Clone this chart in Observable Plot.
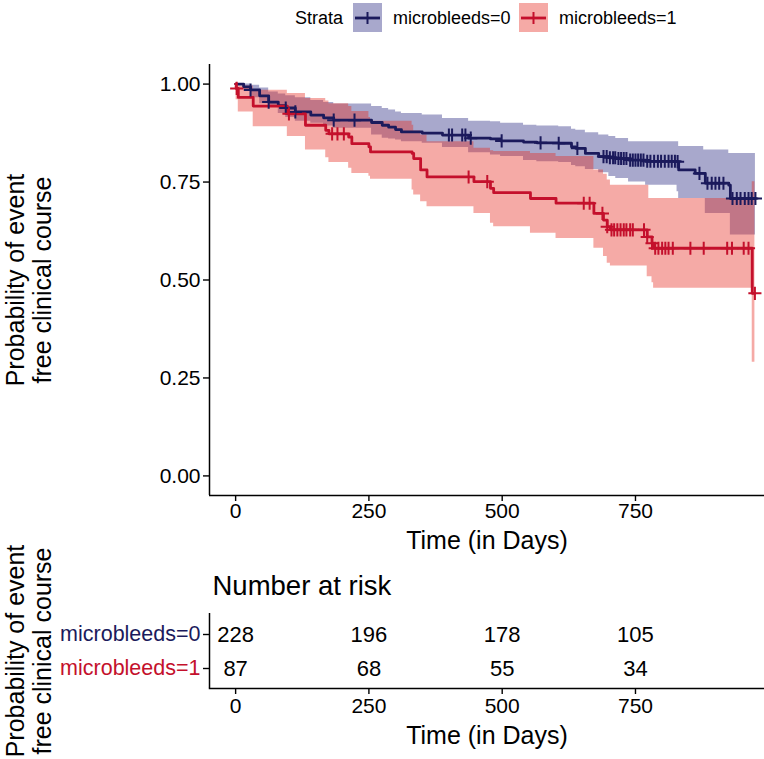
<!DOCTYPE html>
<html>
<head>
<meta charset="utf-8">
<script src="https://cdn.jsdelivr.net/npm/d3@7"></script>
<script src="https://cdn.jsdelivr.net/npm/@observablehq/plot@0.6"></script>
<style>
  body { margin: 0; background: #fff; }
  #root { position: relative; width: 764px; height: 759px; overflow: hidden; font-family: "Liberation Sans", Arial, sans-serif; background: #fff; }
  #root > * { position: absolute; left: 0; }
</style>
</head>
<body>
<div id="root"></div>
<script>
// ---------- data ----------
const strata = ["microbleeds=0", "microbleeds=1"];
const lineColors = ["#1b1a5c", "#c4102c"];
const ribbonColors = ["#26267f", "#e62a20"];

// microbleeds=0 : step times, survival, upper and lower CI
const time0  = [0, 15, 28, 45, 62, 80, 94, 112, 141, 165, 184, 255, 275, 287, 300, 311, 350, 388, 437, 478, 497, 540, 565, 606, 630, 638, 656, 681, 700, 713, 737, 769, 828, 831, 862, 878, 881, 925, 928, 975];
const surv0  = [1.000, 0.993, 0.985, 0.970, 0.954, 0.945, 0.939, 0.929, 0.921, 0.914, 0.908, 0.902, 0.895, 0.890, 0.884, 0.878, 0.875, 0.870, 0.862, 0.860, 0.855, 0.852, 0.850, 0.849, 0.840, 0.836, 0.823, 0.815, 0.812, 0.810, 0.806, 0.803, 0.802, 0.781, 0.772, 0.772, 0.747, 0.742, 0.708, 0.708];
const upper0 = [1.000, 1.000, 0.997, 0.990, 0.980, 0.975, 0.970, 0.965, 0.958, 0.953, 0.949, 0.943, 0.938, 0.934, 0.929, 0.925, 0.921, 0.912, 0.905, 0.904, 0.900, 0.895, 0.893, 0.891, 0.885, 0.882, 0.876, 0.870, 0.866, 0.861, 0.853, 0.853, 0.853, 0.841, 0.841, 0.832, 0.832, 0.823, 0.823, 0.823];
const lower0 = [1.000, 0.982, 0.965, 0.950, 0.940, 0.925, 0.915, 0.905, 0.900, 0.893, 0.887, 0.870, 0.862, 0.860, 0.857, 0.853, 0.849, 0.838, 0.825, 0.819, 0.815, 0.805, 0.802, 0.800, 0.792, 0.789, 0.782, 0.774, 0.764, 0.759, 0.750, 0.742, 0.725, 0.708, 0.708, 0.708, 0.670, 0.670, 0.615, 0.615];
const censor0 = [28, 62, 94, 112, 184, 223, 400, 406, 425, 431, 441, 499, 572, 606, 641, 690, 696, 702, 708, 712, 718, 723, 728, 733, 740, 745, 750, 755, 760, 765, 772, 778, 785, 792, 798, 805, 812, 818, 824, 829, 870, 885, 893, 900, 907, 915, 932, 940, 947, 955, 962, 968, 975];

// microbleeds=1
const time1  = [0, 1, 5, 33, 97, 131, 169, 175, 212, 218, 250, 253, 331, 334, 347, 359, 447, 478, 484, 553, 601, 672, 690, 697, 703, 772, 775, 781, 784, 969, 974];
const surv1  = [1.000, 0.989, 0.966, 0.944, 0.924, 0.895, 0.882, 0.873, 0.865, 0.848, 0.840, 0.827, 0.823, 0.810, 0.781, 0.763, 0.751, 0.734, 0.723, 0.708, 0.696, 0.670, 0.653, 0.636, 0.628, 0.610, 0.610, 0.594, 0.581, 0.466, 0.466];
const upper1 = [1.000, 1.000, 0.995, 0.984, 0.976, 0.963, 0.957, 0.950, 0.943, 0.930, 0.915, 0.905, 0.895, 0.880, 0.870, 0.853, 0.836, 0.830, 0.828, 0.823, 0.815, 0.781, 0.770, 0.755, 0.742, 0.742, 0.708, 0.708, 0.708, 0.751, 0.751];
const lower1 = [1.000, 0.960, 0.929, 0.891, 0.866, 0.832, 0.812, 0.800, 0.785, 0.772, 0.765, 0.757, 0.730, 0.717, 0.700, 0.687, 0.670, 0.645, 0.636, 0.619, 0.606, 0.581, 0.560, 0.543, 0.536, 0.508, 0.508, 0.493, 0.479, 0.290, 0.290];
const censor1 = [2, 100, 181, 191, 203, 437, 472, 653, 664, 688, 697, 705, 710, 716, 722, 728, 733, 740, 745, 766, 772, 781, 787, 793, 800, 806, 812, 820, 853, 878, 922, 931, 953, 962, 974];

// number at risk table
const riskTimes = [0, 250, 500, 750];
const risk0 = [228, 196, 178, 105];
const risk1 = [87, 68, 55, 34];

// axes
const xTicks = [0, 250, 500, 750];
const yTicks = [0, 0.25, 0.5, 0.75, 1];
const xDomain = [-49, 992];
const yDomain = [-0.05, 1.05];
const xTitle = "Time (in Days)";
const yTitle = "Probability of event\nfree clinical course";
const legendTitle = "Strata";
const tableTitle = "Number at risk";

// ---------- tables ----------
function curveRows(time, surv, upper, lower, s) {
  return time.map((t, i) => ({time: t, surv: surv[i], upper: upper[i], lower: lower[i], strata: s}));
}
function censorRows(censor, time, surv, s) {
  return censor.map(t => ({time: t, surv: surv[Math.max(0, d3.bisectRight(time, t) - 1)], strata: s}));
}
const curve0 = curveRows(time0, surv0, upper0, lower0, strata[0]);
const curve1 = curveRows(time1, surv1, upper1, lower1, strata[1]);
const censors = censorRows(censor0, time0, surv0, strata[0]).concat(censorRows(censor1, time1, surv1, strata[1]));
const riskRows = riskTimes.flatMap((t, i) => [
  {time: t, strata: strata[0], n: risk0[i]},
  {time: t, strata: strata[1], n: risk1[i]}
]);

const FONT = "Liberation Sans, Arial, sans-serif";
const root = document.getElementById("root");

// ---------- legend ----------
const ns = "http://www.w3.org/2000/svg";
const leg = document.createElementNS(ns, "svg");
leg.setAttribute("width", 764); leg.setAttribute("height", 40);
leg.style.top = "0px";
function el(tag, attrs, text) {
  const e = document.createElementNS(ns, tag);
  for (const k in attrs) e.setAttribute(k, attrs[k]);
  if (text != null) e.textContent = text;
  leg.appendChild(e);
  return e;
}
el("text", {x: 295, y: 24, "font-family": FONT, "font-size": 18, fill: "#000"}, legendTitle);
const keyX = [353, 519];
strata.forEach((s, i) => {
  const x = keyX[i];
  el("rect", {x: x, y: 3, width: 29, height: 29, fill: ribbonColors[i], "fill-opacity": 0.4});
  el("line", {x1: x + 2, x2: x + 27, y1: 18, y2: 18, stroke: lineColors[i], "stroke-width": 2.8});
  el("line", {x1: x + 14.5, x2: x + 14.5, y1: 12, y2: 24, stroke: lineColors[i], "stroke-width": 2});
  el("text", {x: x + 40, y: 24, "font-family": FONT, "font-size": 18, fill: "#000"}, s);
});
root.appendChild(leg);

// ---------- main survival plot ----------
const main = Plot.plot({
  width: 764, height: 520,
  marginLeft: 209, marginRight: 0, marginTop: 24, marginBottom: 65,
  style: {fontFamily: FONT, background: "transparent", color: "#000", overflow: "visible"},
  x: {domain: xDomain},
  y: {domain: yDomain},
  color: {domain: strata, range: lineColors},
  marks: [
    Plot.areaY(curve0, {x: "time", y1: "lower", y2: "upper", curve: "step-after", fill: ribbonColors[0], fillOpacity: 0.4}),
    Plot.areaY(curve1, {x: "time", y1: "lower", y2: "upper", curve: "step-after", fill: ribbonColors[1], fillOpacity: 0.4}),
    Plot.line(curve0.concat(curve1), {x: "time", y: "surv", z: "strata", stroke: "strata", curve: "step-after", strokeWidth: 2.8}),
    Plot.dot(censors, {x: "time", y: "surv", stroke: "strata", symbol: "plus", r: 4.3, strokeWidth: 2}),
    Plot.ruleX([xDomain[0]], {stroke: "#000", strokeWidth: 1.5}),
    Plot.ruleY([yDomain[0]], {stroke: "#000", strokeWidth: 1.5}),
    Plot.axisX({ticks: xTicks, tickSize: 6, tickPadding: 2, fontSize: 21, label: null, strokeWidth: 1.4, tickFormat: d => String(d)}),
    Plot.axisY({ticks: yTicks, tickSize: 6, tickPadding: 3, fontSize: 21, label: null, strokeWidth: 1.4, tickFormat: d3.format(".2f")}),
    Plot.text([xTitle], {frameAnchor: "bottom", lineAnchor: "middle", dy: 45, fontSize: 25, fill: "#000"}),
    Plot.text([yTitle], {frameAnchor: "left", textAnchor: "middle", lineAnchor: "middle", rotate: -90, dx: -180.5, fontSize: 25, lineHeight: 1.08, fill: "#000"})
  ]
});
main.style.top = "40px";
root.appendChild(main);

// ---------- number at risk table ----------
const table = Plot.plot({
  width: 764, height: 199,
  marginLeft: 209, marginRight: 0, marginTop: 53, marginBottom: 71,
  style: {fontFamily: FONT, background: "transparent", color: "#000", overflow: "visible"},
  x: {domain: xDomain},
  y: {type: "point", domain: strata, padding: 0.6},
  color: {domain: strata, range: lineColors},
  marks: [
    Plot.text(riskRows, {x: "time", y: "strata", text: "n", fontSize: 22, fill: "#000"}),
    Plot.ruleX([xDomain[0]], {stroke: "#000", strokeWidth: 1.5}),
    Plot.frame({anchor: "bottom", stroke: "#000", strokeWidth: 1.5}),
    Plot.axisX({ticks: xTicks, tickSize: 6, tickPadding: 4, fontSize: 21, label: null, strokeWidth: 1.4, tickFormat: d => String(d)}),
    Plot.axisY({tickSize: 6, tickFormat: () => "", label: null, strokeWidth: 1.4}),
    Plot.text(strata, {y: d => d, fill: d => d, frameAnchor: "left", textAnchor: "end", dx: -9, fontSize: 21.5}),
    Plot.text([tableTitle], {frameAnchor: "top-left", textAnchor: "start", lineAnchor: "middle", dx: 3, dy: -27, fontSize: 27.5, fill: "#000"}),
    Plot.text([xTitle], {frameAnchor: "bottom", lineAnchor: "middle", dy: 47, fontSize: 25, fill: "#000"}),
    Plot.text([yTitle], {frameAnchor: "left", textAnchor: "middle", lineAnchor: "middle", rotate: -90, dx: -180.5, fontSize: 25, lineHeight: 1.08, fill: "#000"})
  ]
});
table.style.top = "560px";
root.appendChild(table);
</script>
</body>
</html>
